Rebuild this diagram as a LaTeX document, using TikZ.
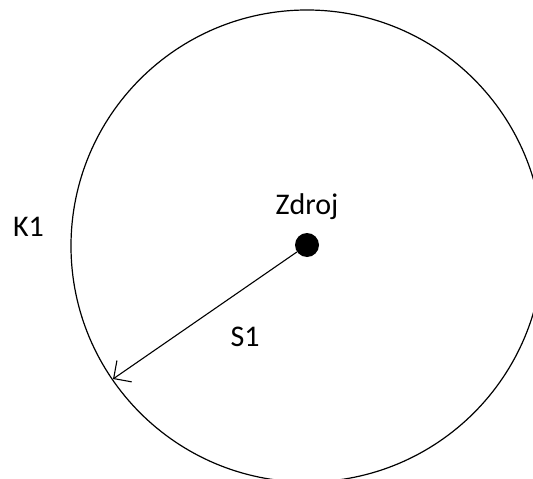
\documentclass[tikz,border=0pt]{standalone}
\usepackage{fontspec}
\setmainfont{Carlito}
\usepackage{tikz}
\usetikzlibrary{arrows.meta}

\begin{document}
\begin{tikzpicture}[x = 1pt, y = -1pt,
  lbl/.style = {anchor = base, inner sep = 0pt, font = \fontsize{30}{36}\selectfont},
  src/.style = {circle, fill = black, inner sep = 0pt, minimum size = 24pt}]
\def\rad{236}
\useasboundingbox (0,0) rectangle (533,479);
\begin{scope}
\clip (0,0) rectangle (533,479);
              %circle K1
\draw [line width = 1.2pt] (307,246) circle [radius = \rad pt];
\end{scope}
              %source and labels
\node [src] (zdroj) at (307,245) {};
\node [lbl] (zdrojlbl) at (307,214) {Zdroj};
\node [lbl] (k1) at (28.5,236) {K1};
\node [lbl] (s1) at (245,346) {S1};
              %ray S1
\coordinate (hit) at (113,379);
\draw [line width = 1.1pt, -{Straight Barb[length = 13pt, width = 26pt]}] (zdroj) -- (hit);
\end{tikzpicture}
\end{document}
